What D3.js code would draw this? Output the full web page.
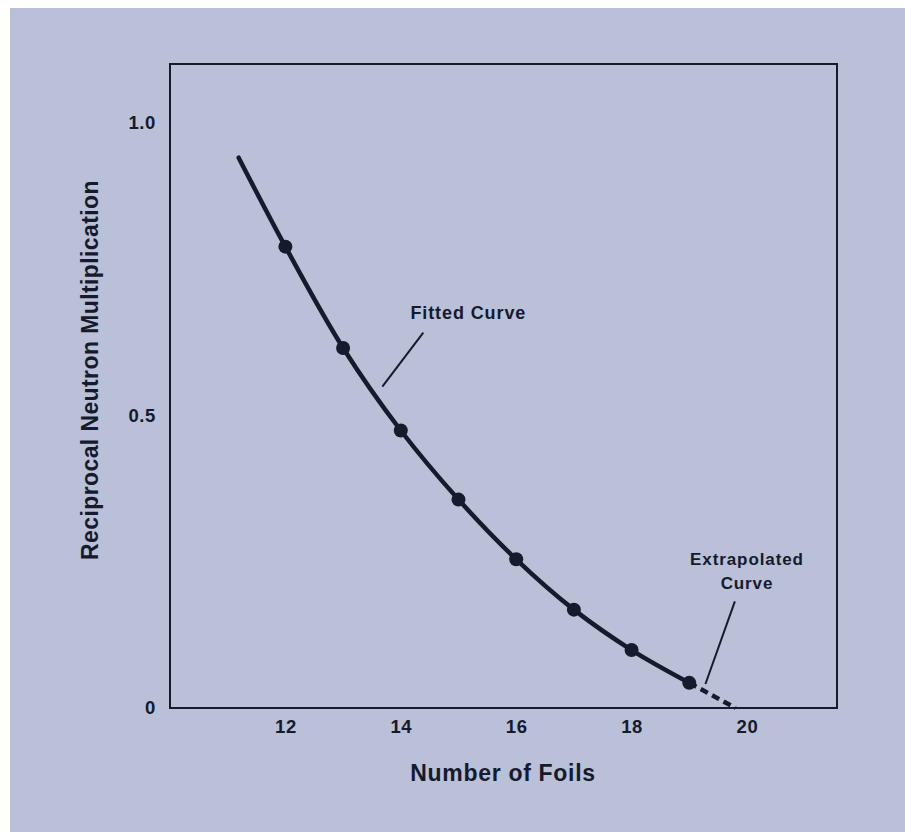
<!DOCTYPE html>
<html>
<head>
<meta charset="utf-8">
<script src="https://cdn.jsdelivr.net/npm/d3@7"></script>
<style>
  html, body { margin: 0; padding: 0; background: #ffffff; }
  svg { display: block; }
  text { font-family: "Liberation Sans", Arial, Helvetica, sans-serif; font-weight: bold; fill: #151a2c; }
</style>
</head>
<body>
<script>
// ---- data ----
const foils = [12, 13, 14, 15, 16, 17, 18, 19];
const reciprocalM = [0.788, 0.615, 0.474, 0.356, 0.254, 0.168, 0.099, 0.043];
const curveStart = [11.19, 0.94];            // fitted curve begins here
const extrapolatedEnd = [19.8, 0.0];          // dashed curve reaches zero
const xTicks = [12, 14, 16, 18, 20];
const yTicks = [0, 0.5, 1.0];
const yTickLabels = ["0", "0.5", "1.0"];
const xTitle = "Number of Foils";
const yTitle = "Reciprocal Neutron Multiplication";
const fittedLabel = "Fitted Curve";
const extrapLabel = ["Extrapolated", "Curve"];

const W = 905, H = 832;
const svg = d3.select("body").append("svg").attr("width", W).attr("height", H);

// background panel
svg.append("rect").attr("x", 10).attr("y", 8).attr("width", W - 10).attr("height", H - 8)
  .attr("fill", "#b9c0d8");

const plot = { left: 170, right: 837, top: 64, bottom: 708 };
const x = d3.scaleLinear().domain([10, 21.56]).range([plot.left, plot.right]);
const y = d3.scaleLinear().domain([0, 1.1]).range([plot.bottom, plot.top]);

const ink = "#151a2c";

// frame
svg.append("rect")
  .attr("x", plot.left).attr("y", plot.top)
  .attr("width", plot.right - plot.left).attr("height", plot.bottom - plot.top)
  .attr("fill", "none").attr("stroke", ink).attr("stroke-width", 2);

// x axis labels (no tick marks)
const xAxis = d3.axisBottom(x).tickValues(xTicks).tickSize(0).tickPadding(12).tickFormat(d3.format("d"));
const gx = svg.append("g").attr("transform", `translate(0,${plot.bottom})`).call(xAxis);
gx.select(".domain").remove();
gx.selectAll("text").attr("font-size", 18.5).attr("letter-spacing", 0.6)
  .style("font-family", '"Liberation Sans", Arial, sans-serif').style("font-weight", "bold").attr("fill", ink);

// y axis labels
const yAxis = d3.axisLeft(y).tickValues(yTicks).tickSize(0).tickPadding(14)
  .tickFormat((d, i) => yTickLabels[i]);
const gy = svg.append("g").attr("transform", `translate(${plot.left},0)`).call(yAxis);
gy.select(".domain").remove();
gy.selectAll("text").attr("font-size", 18.5).attr("letter-spacing", 0.6)
  .style("font-family", '"Liberation Sans", Arial, sans-serif').style("font-weight", "bold").attr("fill", ink);

// axis titles
svg.append("text").attr("x", 503).attr("y", 781).attr("text-anchor", "middle")
  .attr("font-size", 23).attr("letter-spacing", 0.7).text(xTitle);
svg.append("text").attr("transform", "translate(98,370) rotate(-90)").attr("text-anchor", "middle")
  .attr("font-size", 23).attr("letter-spacing", 0.4).text(yTitle);

// fitted curve
const fittedPts = [curveStart].concat(foils.map((f, i) => [f, reciprocalM[i]]));
const line = d3.line().x(d => x(d[0])).y(d => y(d[1])).curve(d3.curveCatmullRom.alpha(0.5));
svg.append("path").datum(fittedPts).attr("d", line)
  .attr("fill", "none").attr("stroke", ink).attr("stroke-width", 4.5).attr("stroke-linecap", "round");

// extrapolated (dashed)
const lastIdx = foils.length - 1;
const extrapPts = [[foils[lastIdx], reciprocalM[lastIdx]], extrapolatedEnd];
const extrapLine = d3.line().x(d => x(d[0])).y(d => y(d[1]));
svg.append("path").datum(extrapPts).attr("d", extrapLine)
  .attr("fill", "none").attr("stroke", ink).attr("stroke-width", 4.5)
  .attr("stroke-dasharray", "8,5");

// points
svg.selectAll("circle.pt").data(foils).enter().append("circle")
  .attr("class", "pt")
  .attr("cx", d => x(d)).attr("cy", (d, i) => y(reciprocalM[i]))
  .attr("r", 7).attr("fill", ink);

// annotations
svg.append("line")
  .attr("x1", x(13.68)).attr("y1", y(0.549)).attr("x2", x(14.39)).attr("y2", y(0.641))
  .attr("stroke", ink).attr("stroke-width", 2);
svg.append("text").attr("x", x(15.17)).attr("y", y(0.675) + 6).attr("text-anchor", "middle")
  .attr("font-size", 18).attr("letter-spacing", 0.9).text(fittedLabel);

svg.append("line")
  .attr("x1", x(19.79)).attr("y1", y(0.182)).attr("x2", x(19.28)).attr("y2", y(0.041))
  .attr("stroke", ink).attr("stroke-width", 2);
svg.selectAll("text.ext").data(extrapLabel).enter().append("text")
  .attr("class", "ext")
  .attr("x", x(20.0)).attr("y", (d, i) => y(0.255) + 6 + i * 24).attr("text-anchor", "middle")
  .attr("font-size", 17).attr("letter-spacing", 0.9).text(d => d);
</script>
</body>
</html>
